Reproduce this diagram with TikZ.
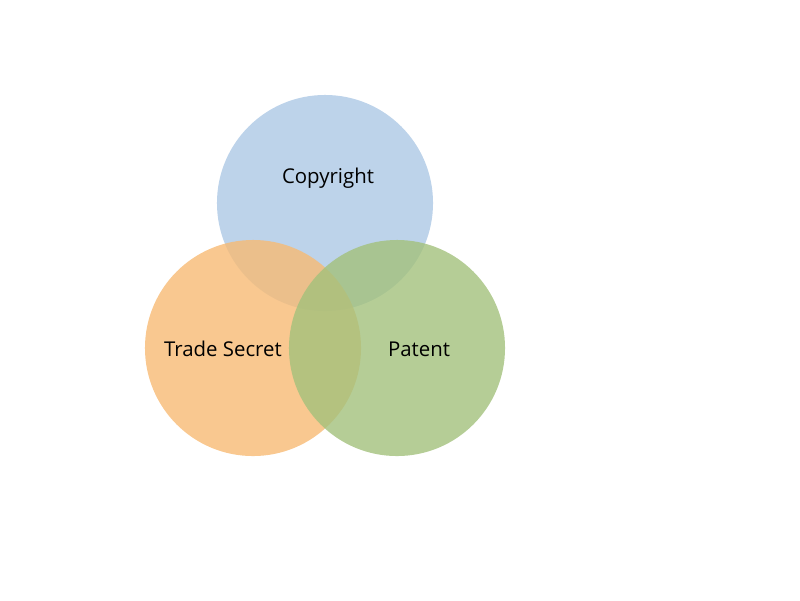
\documentclass[tikz,border=0pt]{standalone}
\usepackage{fontspec}
\setmainfont{Open Sans}
\usetikzlibrary{positioning}
\definecolor{copyblue}{HTML}{ACC8E5}
\definecolor{secretorange}{HTML}{F7BA74}
\definecolor{patentgreen}{HTML}{A3C17C}

\begin{document}
\begin{tikzpicture}[x=0.025cm, y=-0.025cm,
    setcircle/.style={circle, fill=#1, fill opacity=0.8, minimum size=5.4cm, inner sep=0pt},
    setlabel/.style={font=\fontsize{14.5}{17}\selectfont, text=black},
]
\useasboundingbox (0,0) rectangle (800,600);

% Circles
\node[setcircle=copyblue] (copyright) at (325,203) {};
\node[setcircle=secretorange] (secret) at (253,348) {};
\node[setcircle=patentgreen] (patent) at (397,348) {};

% Labels
\node[setlabel] (copyright_label) at (328,178) {Copyright};
\node[setlabel] (secret_label) at (223,349) {Trade Secret};
\node[setlabel] (patent_label) at (419,349) {Patent};

\end{tikzpicture}
\end{document}
